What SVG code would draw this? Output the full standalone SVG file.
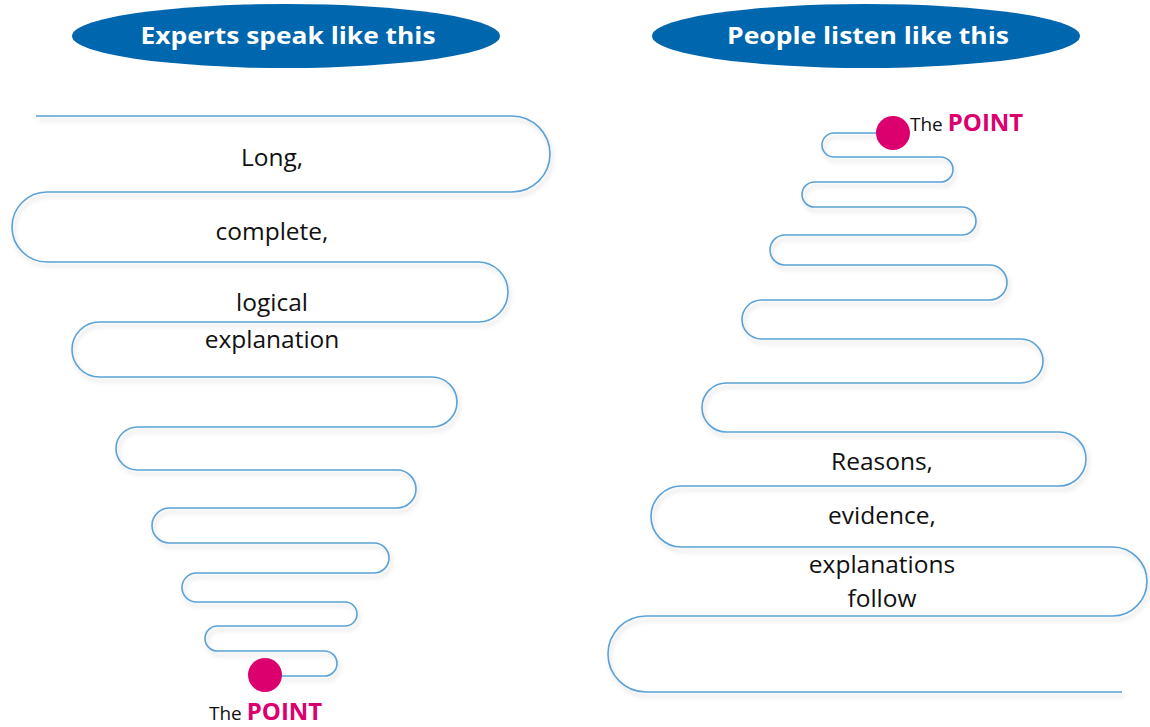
<svg xmlns="http://www.w3.org/2000/svg" width="1150" height="727" viewBox="0 0 1150 727">
<style>
.hdr{fill:#0066AD}
.hdrt{font-family:"Open Sans","Noto Sans",sans-serif;font-weight:bold;font-size:24px;fill:#fff;text-anchor:middle}
.lbl{font-family:"Open Sans","Noto Sans",sans-serif;font-size:24.5px;fill:#111;text-anchor:middle}
.the{font-family:"Open Sans","Noto Sans",sans-serif;font-size:19px;fill:#111}
.pt{font-family:"Open Sans","Noto Sans",sans-serif;font-size:24px;font-weight:bold;fill:#DC006F}
.snake{fill:none;stroke:#5AA2D8;stroke-width:1.6;filter:url(#sh)}
.dot{fill:#DC006F}
</style>
<defs>
<filter id="sh" x="-5%" y="-5%" width="110%" height="115%">
<feDropShadow dx="2" dy="4" stdDeviation="2" flood-color="#888" flood-opacity="0.35"/>
</filter>
</defs>
<rect width="1150" height="727" fill="#fff"/>
<g id="connectors">
<path class="snake" d="M36,116 H512 A38,38 0 0 1 512,192 H47 A35,35 0 0 0 47,262 H478 A30,30 0 0 1 478,322 H99.5 A27.5,27.5 0 0 0 99.5,377 H432 A25,25 0 0 1 432,427 H137.5 A21.5,21.5 0 0 0 137.5,470 H397 A19,19 0 0 1 397,508 H169.5 A17.5,17.5 0 0 0 169.5,543 H374 A15,15 0 0 1 374,573 H196.5 A14.5,14.5 0 0 0 196.5,602 H345 A12,12 0 0 1 345,626 H217.5 A12.5,12.5 0 0 0 217.5,651 H324.5 A12.5,12.5 0 0 1 324.5,676 H265"/>
<path class="snake" d="M893,133 H834 A12,12 0 0 0 834,157 H940.5 A12.5,12.5 0 0 1 940.5,182 H814.5 A12.5,12.5 0 0 0 814.5,207 H962 A14,14 0 0 1 962,235 H785 A15,15 0 0 0 785,265 H989.5 A17.5,17.5 0 0 1 989.5,300 H761.5 A19.5,19.5 0 0 0 761.5,339 H1021 A22,22 0 0 1 1021,383 H726.5 A24.5,24.5 0 0 0 726.5,432 H1059 A27,27 0 0 1 1059,486 H681.5 A30.5,30.5 0 0 0 681.5,547 H1112.5 A34.5,34.5 0 0 1 1112.5,616 H646 A38,38 0 0 0 646,692 H1122"/>
</g>
<g id="header-experts">
<ellipse class="hdr" cx="286" cy="36" rx="214" ry="32"/>
<text class="hdrt" x="288" y="44" textLength="295" lengthAdjust="spacingAndGlyphs">Experts speak like this</text>
</g>
<g id="header-people">
<ellipse class="hdr" cx="866" cy="36" rx="214" ry="32"/>
<text class="hdrt" x="868" y="44" textLength="282" lengthAdjust="spacingAndGlyphs">People listen like this</text>
</g>
<g id="left-text">
<text class="lbl" x="272" y="166">Long,</text>
<text class="lbl" x="272" y="240">complete,</text>
<text class="lbl" x="272" y="311">logical</text>
<text class="lbl" x="272" y="348">explanation</text>
</g>
<g id="left-point">
<circle class="dot" cx="265" cy="675" r="17"/>
<text x="209" y="720"><tspan class="the">The </tspan><tspan class="pt">POINT</tspan></text>
</g>
<g id="right-point">
<circle class="dot" cx="893" cy="133" r="17"/>
<text x="910" y="131"><tspan class="the">The </tspan><tspan class="pt">POINT</tspan></text>
</g>
<g id="right-text">
<text class="lbl" x="882" y="470">Reasons,</text>
<text class="lbl" x="882" y="524">evidence,</text>
<text class="lbl" x="882" y="573">explanations</text>
<text class="lbl" x="882" y="607">follow</text>
</g>
</svg>
